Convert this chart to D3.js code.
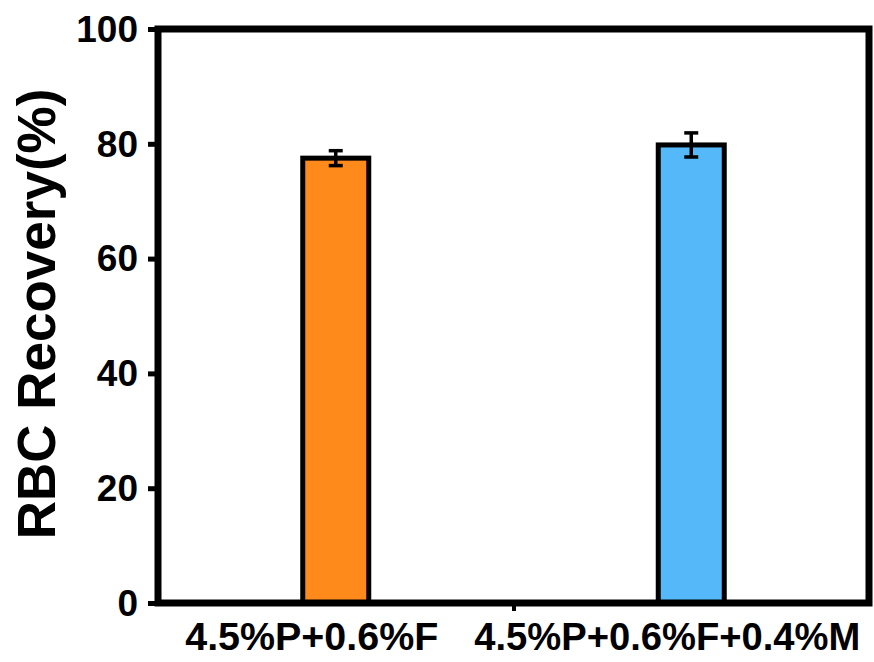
<!DOCTYPE html>
<html>
<head>
<meta charset="utf-8">
<script src="https://cdn.jsdelivr.net/npm/d3@7"></script>
<style>
  body { margin: 0; background: #fff; }
  text { font-family: "Liberation Sans", Arial, sans-serif; font-weight: bold; }
</style>
</head>
<body>
<div id="chart"></div>
<script>
// Data
const groups = ['4.5%P+0.6%F', '4.5%P+0.6%F+0.4%M'];
const recovery = [77.5, 79.8];
const errors = [1.3, 2.1];
const colors = ['#FF8A1C', '#55B8F8'];
const yTicks = [0, 20, 40, 60, 80, 100];

const W = 874, H = 662;
const margin = {top: 29, right: 5, bottom: 59, left: 158};
const width = W - margin.left - margin.right;
const height = H - margin.top - margin.bottom;

const svg = d3.select('#chart')
    .append('svg')
    .attr('width', W)
    .attr('height', H)
    .append('g')
    .attr('transform', `translate(${margin.left}, ${margin.top})`);

// positions: bars at 0.5 and 1.5 on a 0..2 axis
const x = d3.scaleLinear().domain([0, 2]).range([0, width]);
const y = d3.scaleLinear().domain([0, 100]).range([height, 0]);
const barW = 66;

// bars
svg.selectAll('rect.bar')
    .data(recovery)
    .enter()
    .append('rect')
    .attr('class', 'bar')
    .attr('x', (d, i) => x(i + 0.5) - barW / 2)
    .attr('y', d => y(d))
    .attr('width', barW)
    .attr('height', d => y(0) - y(d))
    .attr('fill', (d, i) => colors[i])
    .attr('stroke', '#000')
    .attr('stroke-width', 5);

// error bars
const eb = svg.selectAll('g.err')
    .data(recovery)
    .enter()
    .append('g')
    .attr('class', 'err')
    .attr('stroke', '#000')
    .attr('stroke-width', 3.5);
eb.append('line')
    .attr('x1', (d, i) => x(i + 0.5)).attr('x2', (d, i) => x(i + 0.5))
    .attr('y1', (d, i) => y(d + errors[i])).attr('y2', (d, i) => y(d - errors[i]));
eb.append('line')
    .attr('x1', (d, i) => x(i + 0.5) - 7).attr('x2', (d, i) => x(i + 0.5) + 7)
    .attr('y1', (d, i) => y(d + errors[i])).attr('y2', (d, i) => y(d + errors[i]));
eb.append('line')
    .attr('x1', (d, i) => x(i + 0.5) - 7).attr('x2', (d, i) => x(i + 0.5) + 7)
    .attr('y1', (d, i) => y(d - errors[i])).attr('y2', (d, i) => y(d - errors[i]));

// frame
svg.append('rect')
    .attr('x', 0).attr('y', 0)
    .attr('width', width).attr('height', height)
    .attr('fill', 'none')
    .attr('stroke', '#000')
    .attr('stroke-width', 7);

// Y axis
const yAxis = svg.append('g')
    .call(d3.axisLeft(y).tickValues(yTicks).tickSize(10).tickPadding(10));
yAxis.select('.domain').remove();
yAxis.selectAll('line').attr('stroke-width', 5);
yAxis.selectAll('text').attr('font-size', 37).attr('fill', '#000').attr('dy', '0.33em');

// X axis: a single tick between the groups
const xAxis = svg.append('g')
    .attr('transform', `translate(0, ${height})`)
    .call(d3.axisBottom(x).tickValues([1]).tickSize(8).tickFormat(''));
xAxis.select('.domain').remove();
xAxis.selectAll('line').attr('stroke-width', 4);

// group labels (a bit left of the bar centres, as in the original)
const labelFit = [253, 386];
svg.selectAll('text.xlab')
    .data(groups)
    .enter()
    .append('text')
    .attr('class', 'xlab')
    .attr('x', (d, i) => x(i + 0.5) - 24)
    .attr('y', height + 47)
    .attr('text-anchor', 'middle')
    .attr('font-size', 39)
    .attr('textLength', (d, i) => labelFit[i])
    .attr('lengthAdjust', 'spacingAndGlyphs')
    .text(d => d);

// y label
svg.append('text')
    .attr('transform', `translate(${-103}, ${height / 2 - 2}) rotate(-90)`)
    .attr('text-anchor', 'middle')
    .attr('font-size', 53)
    .text('RBC Recovery(%)');
</script>
</body>
</html>
